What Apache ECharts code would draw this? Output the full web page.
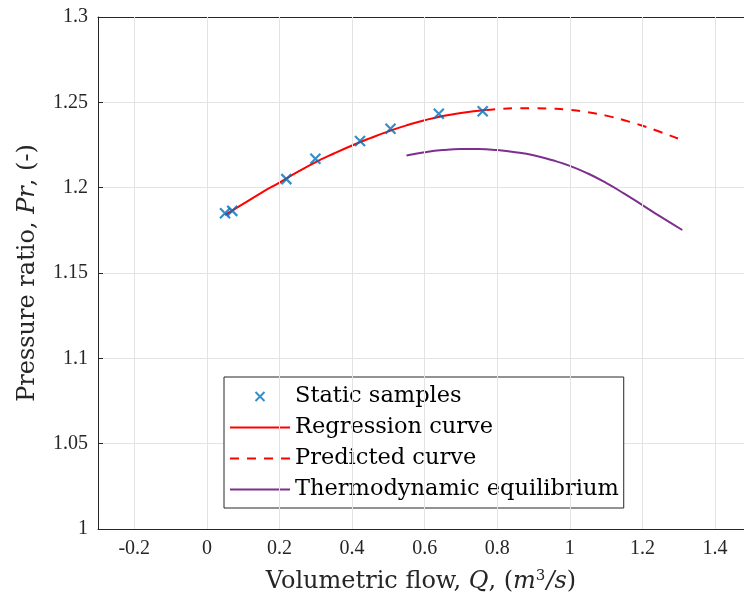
<!DOCTYPE html>
<html><head><meta charset="utf-8">
<script src="https://cdn.jsdelivr.net/npm/echarts@6/dist/echarts.min.js"></script>
<style>html,body{margin:0;padding:0;background:#fff}#c{width:744px;height:601px}</style>
</head><body><div id="c"></div>
<script>
// Static samples
const sampleQ = [0.050, 0.070, 0.219, 0.299, 0.422, 0.506, 0.639, 0.760];
const samplePr = [1.1850, 1.1864, 1.2050, 1.2169, 1.2273, 1.2345, 1.2433, 1.2448];
// Regression curve (solid)
const regQ = [0.05, 0.10, 0.15, 0.20, 0.25, 0.30, 0.35, 0.40, 0.45, 0.50, 0.55, 0.60, 0.65, 0.70, 0.77];
const regPr = [1.1840, 1.1905, 1.1970, 1.2030, 1.2092, 1.2150, 1.2200, 1.2247, 1.2290, 1.2330, 1.2365, 1.2395, 1.2420, 1.2438, 1.2455];
// Predicted curve (dashed)
const predQ = [0.77, 0.80, 0.85, 0.90, 0.95, 1.00, 1.05, 1.10, 1.15, 1.20, 1.25, 1.30, 1.32];
const predPr = [1.2455, 1.2461, 1.2465, 1.2466, 1.2463, 1.2456, 1.2442, 1.2422, 1.2395, 1.2363, 1.2326, 1.2287, 1.2275];
// Thermodynamic equilibrium
const thermoQ = [0.55, 0.60, 0.65, 0.70, 0.75, 0.80, 0.85, 0.90, 0.95, 1.00, 1.05, 1.10, 1.15, 1.20, 1.25, 1.31];
const thermoPr = [1.2188, 1.2207, 1.2220, 1.2226, 1.2226, 1.2220, 1.2208, 1.2190, 1.2162, 1.2128, 1.2083, 1.2028, 1.1965, 1.1898, 1.1830, 1.1752];
// Tick values / labels
const xTicks = [-0.2, 0, 0.2, 0.4, 0.6, 0.8, 1, 1.2, 1.4];
const xTickLabels = ['-0.2', '0', '0.2', '0.4', '0.6', '0.8', '1', '1.2', '1.4'];
const yTicks = [1, 1.05, 1.1, 1.15, 1.2, 1.25, 1.3];
const yTickLabels = ['1', '1.05', '1.1', '1.15', '1.2', '1.25', '1.3'];

const zip = (a, b) => a.map((v, i) => [v, b[i]]);
const FONT = 'Liberation Serif';
const TFONT = 'DejaVu Serif';
const AX = '#262626';
const GRIDC = '#e3e3e3';

function xLabel(v) { const i = xTicks.findIndex(t => Math.abs(t - v) < 1e-6); return i >= 0 ? xTickLabels[i] : ''; }
function yLabel(v) { const i = yTicks.findIndex(t => Math.abs(t - v) < 1e-6); return i >= 0 ? yTickLabels[i] : ''; }

const chart = echarts.init(document.getElementById('c'), null, {renderer: 'canvas'});
chart.setOption({
  animation: false,
  grid: {left: 98, top: 17, right: 0, height: 512, containLabel: false},
  xAxis: [{
    type: 'value', min: -0.3, max: 1.48, interval: 0.1, position: 'bottom',
    axisLine: {show: true, onZero: false, lineStyle: {color: AX, width: 1}},
    axisTick: {show: true, inside: true, length: 5, lineStyle: {color: AX}, customValues: xTicks},
    splitLine: {show: false},
    axisLabel: {show: true, color: AX, fontFamily: FONT, fontSize: 20, margin: 10,
      customValues: xTicks, formatter: xLabel},
    name: '{n|Volumetric flow, }{i|Q}{n|, (}{i|m}{s|3}{i|/s}{n|)}',
    nameLocation: 'middle', nameGap: 40,
    nameTextStyle: {color: AX, fontFamily: TFONT, fontSize: 24,
      rich: {n: {fontFamily: TFONT, fontSize: 24, color: AX},
             i: {fontFamily: TFONT, fontSize: 24, fontStyle: 'italic', color: AX},
             s: {fontFamily: TFONT, fontSize: 15, color: AX, verticalAlign: 'top', padding: [0,1,10,0]}}}
  }, {
    type: 'value', min: -0.3, max: 1.48, interval: 0.1, position: 'top',
    axisLine: {show: true, onZero: false, lineStyle: {color: AX, width: 1}},
    axisTick: {show: true, inside: true, length: 5, lineStyle: {color: AX}, customValues: xTicks},
    splitLine: {show: false}, axisLabel: {show: false}
  }],
  yAxis: [{
    type: 'value', min: 1, max: 1.3, interval: 0.05, position: 'left',
    axisLine: {show: true, onZero: false, lineStyle: {color: AX, width: 1}},
    axisTick: {show: true, inside: true, length: 5, lineStyle: {color: AX}},
    splitLine: {show: true, lineStyle: {color: GRIDC, width: 1}},
    axisLabel: {show: true, color: AX, fontFamily: FONT, fontSize: 20, margin: 10, formatter: yLabel},
    name: '{n|Pressure ratio, }{i|Pr}{n|, (-)}',
    nameLocation: 'middle', nameGap: 58,
    nameTextStyle: {color: AX, fontFamily: TFONT, fontSize: 24,
      rich: {n: {fontFamily: TFONT, fontSize: 24, color: AX},
             i: {fontFamily: TFONT, fontSize: 24, fontStyle: 'italic', color: AX}}}
  }],
  legend: {
    show: true, orient: 'vertical', left: 224, top: 377,
    backgroundColor: '#fff', borderColor: AX, borderWidth: 1, borderRadius: 0,
    padding: [8, 5, 7, 6], itemGap: 8, itemWidth: 60, itemHeight: 9,
    textStyle: {fontFamily: TFONT, fontSize: 22.5, color: '#000', padding: [0,0,0,0]},
    data: [
      {name: 'Static samples', icon: 'path://M0,0 L10,10 M10,0 L0,10'},
      {name: 'Regression curve', icon: 'path://M0,4 L60,4 L60,6 L0,6 Z'},
      {name: 'Predicted curve', icon: 'path://M0,4 L9,4 L9,6 L0,6 Z M17,4 L26,4 L26,6 L17,6 Z M34,4 L43,4 L43,6 L34,6 Z M51,4 L60,4 L60,6 L51,6 Z'},
      {name: 'Thermodynamic equilibrium', icon: 'path://M0,4 L60,4 L60,6 L0,6 Z'}
    ]
  },
  series: [
    {name: 'grid', type: 'line', data: [], silent: true, z: 0,
      markLine: {silent: true, symbol: 'none', label: {show: false}, animation: false,
        lineStyle: {color: GRIDC, width: 1, type: 'solid'},
        data: xTicks.map(v => ({xAxis: v}))}},
    {name: 'Regression curve', type: 'line', data: zip(regQ, regPr), showSymbol: false, symbol: 'none',
      smooth: true, lineStyle: {color: '#ff0000', width: 2}, itemStyle: {color: '#ff0000'}, z: 2},
    {name: 'Predicted curve', type: 'line', data: zip(predQ, predPr), showSymbol: false, symbol: 'none',
      smooth: true, lineStyle: {color: '#ff0000', width: 2, type: [9, 8]}, itemStyle: {color: '#ff0000'}, z: 2},
    {name: 'Thermodynamic equilibrium', type: 'line', data: zip(thermoQ, thermoPr), showSymbol: false, symbol: 'none',
      smooth: true, lineStyle: {color: '#7e2f8e', width: 2}, itemStyle: {color: '#7e2f8e'}, z: 2},
    {name: 'Static samples', type: 'scatter', data: zip(sampleQ, samplePr),
      symbol: 'path://M0,0 L10,10 M10,0 L0,10', symbolSize: 10,
      itemStyle: {color: 'none', borderColor: '#0072bd', borderWidth: 2.2}, z: 3}
  ]
});
</script></body></html>
